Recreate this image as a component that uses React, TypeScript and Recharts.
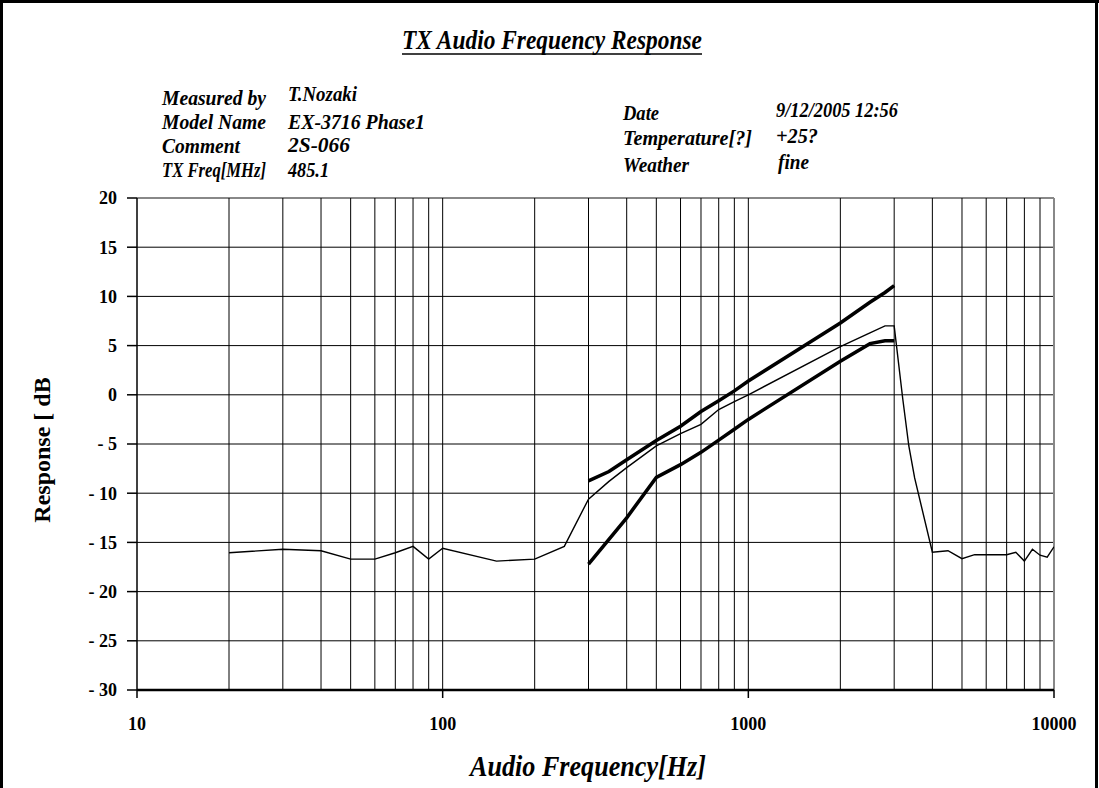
import { LineChart, Line, XAxis, YAxis, ReferenceLine } from "recharts"

// measured response (thin line)
const respFreq = [20, 30, 40, 50, 60, 70, 80, 90, 100, 150, 200, 250, 300, 350, 400, 500, 600, 700, 800, 900, 1000, 2000, 2500, 2800, 3000, 3200, 3350, 3500, 4000, 4500, 5000, 5500, 6000, 7000, 7500, 8000, 8500, 9000, 9500, 10000]
const respDb = [-16.05, -15.7, -15.85, -16.7, -16.7, -16.05, -15.4, -16.7, -15.6, -16.9, -16.7, -15.4, -10.6, -8.8, -7.4, -5.2, -3.95, -3.0, -1.5, -0.7, 0.0, 4.9, 6.3, 7.0, 7.0, -0.4, -5.2, -8.45, -16.0, -15.85, -16.65, -16.25, -16.25, -16.25, -16.0, -16.9, -15.7, -16.3, -16.5, -15.45]

// upper limit (thick)
const upperFreq = [300, 350, 400, 500, 600, 700, 800, 900, 1000, 2000, 2500, 2800, 3000]
const upperDb = [-8.75, -7.8, -6.6, -4.65, -3.2, -1.7, -0.6, 0.4, 1.4, 7.3, 9.4, 10.4, 11.1]

// lower limit (thick)
const lowerFreq = [300, 400, 500, 600, 700, 800, 900, 1000, 2000, 2500, 2800, 3000]
const lowerDb = [-17.2, -12.5, -8.4, -7.1, -5.85, -4.6, -3.5, -2.5, 3.4, 5.2, 5.5, 5.5]

const xTicks = [10, 100, 1000, 10000]
const xGrid = [20, 30, 40, 50, 60, 70, 80, 90, 100, 200, 300, 400, 500, 600, 700, 800, 900, 1000, 2000, 3000, 4000, 5000, 6000, 7000, 8000, 9000]
const yTicks = [-30, -25, -20, -15, -10, -5, 0, 5, 10, 15, 20]
const yGrid = [-25, -20, -15, -10, -5, 0, 5, 10, 15]

const toPoints = (fs: number[], vs: number[]) => fs.map((f, i) => ({ f, db: vs[i] }))

const respData = toPoints(respFreq, respDb)
const upperData = toPoints(upperFreq, upperDb)
const lowerData = toPoints(lowerFreq, lowerDb)

const condensed = "'Liberation Sans Narrow', 'Liberation Serif', serif"
const serif = "'Liberation Serif', 'DejaVu Serif', serif"

const Info = ({ x, y, w, children }: { x: number; y: number; w: number; children: string }) => (
  <text x={x} y={y} fontSize={20} fontStyle="italic" fontWeight={700} fontFamily={condensed} textLength={w} lengthAdjust="spacingAndGlyphs" fill="#000">
    {children}
  </text>
)

export default function App() {
  return (
    <div style={{ position: "absolute", left: 0, top: 0, width: 1099, height: 788, background: "#fff" }}>
      <LineChart width={1099} height={788} margin={{ top: 198, right: 45, bottom: 68, left: 77 }}>
        <XAxis
          type="number"
          dataKey="f"
          scale="log"
          domain={[10, 10000]}
          allowDataOverflow
          ticks={xTicks}
          height={30}
          tickSize={8}
          tickMargin={19}
          tick={{ fill: "#000", fontSize: 18, fontWeight: 700, fontFamily: serif }}
          axisLine={{ stroke: "#000", strokeWidth: 2.5 }}
          tickLine={{ stroke: "#000", strokeWidth: 1.5 }}
        />
        <YAxis
          type="number"
          domain={[-30, 20]}
          ticks={yTicks}
          interval={0}
          width={60}
          tickSize={10}
          tickMargin={10}
          tickFormatter={(v: number) => (v < 0 ? `- ${-v}` : `${v}`)}
          tick={{ fill: "#000", fontSize: 18, fontWeight: 700, fontFamily: serif }}
          axisLine={{ stroke: "#000", strokeWidth: 1.5 }}
          tickLine={{ stroke: "#000", strokeWidth: 1.5 }}
        />
        {yGrid.map((v) => (
          <ReferenceLine key={`y${v}`} y={v} stroke="#000" strokeWidth={1} />
        ))}
        <ReferenceLine y={20} stroke="#888" strokeWidth={2} />
        {xGrid.map((v) => (
          <ReferenceLine key={`x${v}`} x={v} stroke="#000" strokeWidth={1} />
        ))}
        <ReferenceLine x={10000} stroke="#888" strokeWidth={2} />
        <Line data={respData} dataKey="db" stroke="#000" strokeWidth={1.4} dot={false} isAnimationActive={false} />
        <Line data={upperData} dataKey="db" stroke="#000" strokeWidth={3.5} dot={false} isAnimationActive={false} />
        <Line data={lowerData} dataKey="db" stroke="#000" strokeWidth={3.5} dot={false} isAnimationActive={false} />
      </LineChart>

      <svg width={1099} height={788} style={{ position: "absolute", left: 0, top: 0, pointerEvents: "none" }}>
        {/* frame */}
        <line x1={0} y1={1.5} x2={1099} y2={1.5} stroke="#000" strokeWidth={3} />
        <line x1={1.5} y1={0} x2={1.5} y2={788} stroke="#000" strokeWidth={3} />
        <line x1={1096.5} y1={0} x2={1096.5} y2={788} stroke="#000" strokeWidth={3} />

        <text x={402} y={49} fontSize={28} fontStyle="italic" fontWeight={700} fontFamily={condensed} textLength={300} lengthAdjust="spacingAndGlyphs" fill="#000">
          TX Audio Frequency Response
        </text>
        <line x1={402} y1={54} x2={702} y2={54} stroke="#000" strokeWidth={1.5} />

        <Info x={162} y={105} w={104}>Measured by</Info>
        <Info x={162} y={129} w={104}>Model Name</Info>
        <Info x={162} y={153} w={78}>Comment</Info>
        <Info x={162} y={177} w={104}>TX Freq[MHz]</Info>
        <Info x={288} y={101} w={69}>T.Nozaki</Info>
        <Info x={288} y={129} w={137}>EX-3716 Phase1</Info>
        <Info x={288} y={152} w={62}>2S-066</Info>
        <Info x={288} y={177} w={41}>485.1</Info>

        <Info x={623} y={120} w={36}>Date</Info>
        <Info x={623} y={145} w={129}>Temperature[?]</Info>
        <Info x={623} y={172} w={66}>Weather</Info>
        <Info x={776} y={117} w={122}>9/12/2005 12:56</Info>
        <Info x={776} y={143} w={42}>+25?</Info>
        <Info x={778} y={169} w={31}>fine</Info>

        <text x={470} y={776} fontSize={30} fontStyle="italic" fontWeight={700} fontFamily={condensed} textLength={236} lengthAdjust="spacingAndGlyphs" fill="#000">
          Audio Frequency[Hz]
        </text>
        <text
          x={0}
          y={0}
          transform="translate(50,450) rotate(-90)"
          textAnchor="middle"
          fontSize={24}
          fontWeight={700}
          fontFamily={serif}
          fill="#000"
        >
          Response [ dB
        </text>
      </svg>
    </div>
  )
}
